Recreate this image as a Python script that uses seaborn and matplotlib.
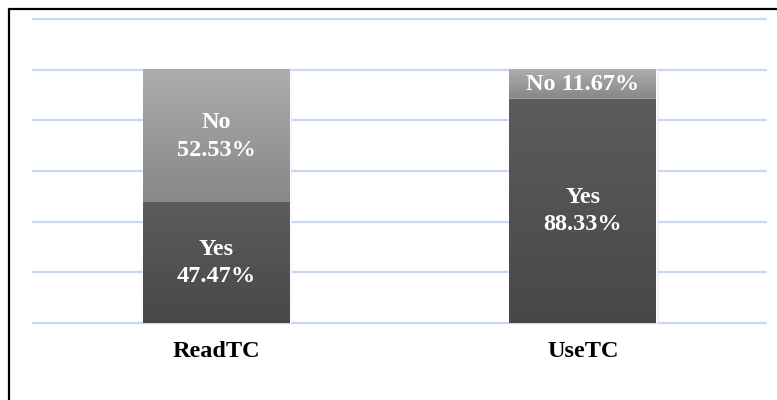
import numpy as np
import pandas as pd
import seaborn as sns
import matplotlib
matplotlib.use("Agg")
import matplotlib.pyplot as plt
from matplotlib.colors import LinearSegmentedColormap
from matplotlib.lines import Line2D

# values
categories = ["ReadTC", "UseTC"]
yes_pct = [47.47, 88.33]
no_pct = [52.53, 11.67]

df = pd.DataFrame({"cat": categories, "yes": yes_pct, "no": no_pct})
df["total"] = df["yes"] + df["no"]

sns.set_theme(style="white")
plt.rcParams["font.family"] = ["Liberation Serif", "DejaVu Serif"]

fig = plt.figure(figsize=(7.77, 4.0), dpi=100)
ax = fig.add_axes([33 / 777, 1 - 323 / 400, (766 - 33) / 777, (323 - 19) / 400])

# stacked: full bar (No on top) then Yes over it
sns.barplot(data=df, x="cat", y="total", color="#9a9a9a", width=0.4,
            saturation=1, ax=ax, zorder=3)
n_top = len(ax.patches)
sns.barplot(data=df, x="cat", y="yes", color="#525252", width=0.4,
            saturation=1, ax=ax, zorder=4)

light = LinearSegmentedColormap.from_list("lt", ["#878787", "#adadad"])
dark = LinearSegmentedColormap.from_list("dk", ["#484848", "#5c5c5c"])
grad = np.linspace(0, 1, 256).reshape(-1, 1)

for i, p in enumerate(ax.patches):
    x0, w = p.get_x(), p.get_width()
    if i < n_top:
        y0 = df["yes"].iloc[i]
        y1 = df["total"].iloc[i]
        cm = light
    else:
        y0, y1 = 0, p.get_height()
        cm = dark
    # faint shadow on the right side
    ax.fill_between([x0 + w, x0 + w + 0.008], y0 - 0.6, y1, color="#e4e4e4",
                    alpha=0.6, lw=0, zorder=2)
    ax.imshow(grad, cmap=cm, origin="lower", aspect="auto",
              extent=[x0, x0 + w, y0, y1], zorder=p.get_zorder() + 0.5)

ax.set_xlim(-0.5, 1.5)
ax.set_ylim(0, 120)
ax.set_yticks([0, 20, 40, 60, 80, 100, 120])
ax.grid(axis="y", color="#c8d8ee", lw=1.6, zorder=0)
for gl in ax.get_ygridlines():
    gl.set_clip_on(False)
ax.set_axisbelow(True)
for s in ax.spines.values():
    s.set_visible(False)
ax.set_yticklabels([])
ax.tick_params(axis="y", length=0)
ax.tick_params(axis="x", length=0, pad=13)
ax.set_xlabel("")
ax.set_ylabel("")
for t in ax.get_xticklabels():
    t.set_fontsize(17.5)
    t.set_fontweight("bold")
    t.set_color("black")

# segment labels
for i, c in enumerate(categories):
    y, n = yes_pct[i], no_pct[i]
    ax.text(i, y / 2, f"Yes\n{y:.2f}%", ha="center", va="center", color="white",
            fontsize=17.5, fontweight="bold", linespacing=1.42, zorder=10)
    if n > 20:
        lab = f"No\n{n:.2f}%"
    else:
        lab = f"No {n:.2f}%"
    ax.text(i, y + n / 2, lab, ha="center", va="center", color="white",
            fontsize=17.5, fontweight="bold", linespacing=1.42, zorder=10)

# outer frame (left and top edges visible)
fig.add_artist(Line2D([8.5 / 777, 8.5 / 777], [0, 1 - 8.5 / 400],
                      transform=fig.transFigure, color="black", lw=1.6))
fig.add_artist(Line2D([8.5 / 777, 1], [1 - 8.5 / 400, 1 - 8.5 / 400],
                      transform=fig.transFigure, color="black", lw=1.6))

fig.savefig("out.png", dpi=100)
